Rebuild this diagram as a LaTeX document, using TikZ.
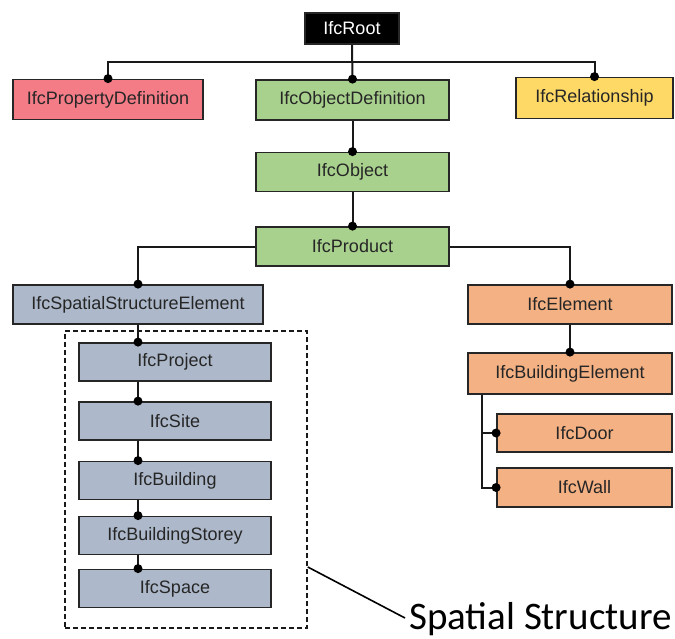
\documentclass[tikz,border=0pt]{standalone}
\usepackage{fontspec}
\setmainfont{Liberation Sans}
\newfontfamily\calibfont{Carlito}
\definecolor{ifcred}{RGB}{243,124,135}
\definecolor{ifcgreen}{RGB}{169,209,142}
\definecolor{ifcyellow}{RGB}{255,217,102}
\definecolor{ifcblue}{RGB}{173,185,202}
\definecolor{ifcorange}{RGB}{244,177,131}
\tikzset{
	ifcbox/.style={draw=black!85, line width=1.8pt, minimum height=39pt, inner sep=0pt,
		font=\fontsize{18}{18}\selectfont, text=black!85},
	link/.style={line width=2pt, draw=black!90},
}

\begin{document}
\begin{tikzpicture}[x=1pt,y=-1pt]
\useasboundingbox (0,0) rectangle (675,638);
%TOP
	\node[ifcbox, fill=black, text=white, minimum width=94pt, minimum height=31pt] (root) at (352,28.5) {IfcRoot};
	\node[ifcbox, fill=ifcred, minimum width=190pt, minimum height=40pt] (propdef) at (108,99.5) {IfcPropertyDefinition};
	\node[ifcbox, fill=ifcgreen, minimum width=193pt, minimum height=40pt] (objdef) at (352.5,100) {IfcObjectDefinition};
	\node[ifcbox, fill=ifcyellow, minimum width=157pt, minimum height=41pt] (rel) at (594.5,98) {IfcRelationship};
	\coordinate (bar) at (0,62);
%OBJECTS
	\node[ifcbox, fill=ifcgreen, minimum width=193pt] (object) at (352.5,172) {IfcObject};
	\node[ifcbox, fill=ifcgreen, minimum width=193pt] (product) at (352.5,246.5) {IfcProduct};
%SPATIAL
	\node[ifcbox, fill=ifcblue, minimum width=250pt] (sse) at (138,304.5) {IfcSpatialStructureElement};
	\node[draw=black!90, line width=1.6pt, dash pattern=on 5pt off 3pt, minimum width=242pt, minimum height=297pt] (ssframe) at (186,479.5) {};
	\node[ifcbox, fill=ifcblue, minimum width=192pt, minimum height=38pt] (project) at (175,362) {IfcProject};
	\node[ifcbox, fill=ifcblue, minimum width=192pt, minimum height=38pt] (site) at (175,421) {IfcSite};
	\node[ifcbox, fill=ifcblue, minimum width=192pt, minimum height=38pt] (building) at (175,480.5) {IfcBuilding};
	\node[ifcbox, fill=ifcblue, minimum width=192pt, minimum height=38pt] (storey) at (175,535.5) {IfcBuildingStorey};
	\node[ifcbox, fill=ifcblue, minimum width=192pt, minimum height=38pt] (space) at (175,588.5) {IfcSpace};
%ELEMENTS
	\node[ifcbox, fill=ifcorange, minimum width=204pt] (element) at (570,304.5) {IfcElement};
	\node[ifcbox, fill=ifcorange, minimum width=204pt, minimum height=41pt] (belem) at (570,373.5) {IfcBuildingElement};
	\node[ifcbox, fill=ifcorange, minimum width=175pt, minimum height=38pt] (door) at (584.5,433) {IfcDoor};
	\node[ifcbox, fill=ifcorange, minimum width=175pt] (wall) at (584.5,487.5) {IfcWall};
%label
	\node[font=\calibfont\fontsize{39}{39}\selectfont, anchor=west, inner sep=0pt] (sslabel) at (409,619) {Spatial Structure};
	\coordinate (belemleg) at ([xshift=15pt]belem.south west);

%links
	\draw[link] (root.south) -- (objdef.north);
	\draw[link] (propdef.north) -- (propdef.north |- bar) -- (rel.north |- bar) -- (rel.north);
	\draw[link] (objdef.south) -- (object.north);
	\draw[link] (object.south) -- (product.north);
	\draw[link] (product.west) -| (sse.north);
	\draw[link] (product.east) -| (element.north);
	\draw[link] (sse.south) -- (sse.south |- project.north);
	\draw[link] (sse.south |- project.south) -- (sse.south |- site.north);
	\draw[link] (sse.south |- site.south) -- (sse.south |- building.north);
	\draw[link] (sse.south |- building.south) -- (sse.south |- storey.north);
	\draw[link] (sse.south |- storey.south) -- (sse.south |- space.north);
	\draw[link] (element.south) -- (belem.north);
	\draw[link] (belemleg) |- (wall.west);
	\draw[link] (belemleg |- door.west) -- (door.west);
	\draw[line width=1.6pt] (ssframe.east |- 0,567) -- ([xshift=-4pt,yshift=1pt]sslabel.west);
%dots
	\foreach \p in {propdef.north, objdef.north, rel.north, object.north, product.north,
		sse.north, element.north, belem.north, door.west, wall.west}
		\fill (\p) circle (4.5pt);
	\foreach \q in {project, site, building, storey, space}
		\fill (sse.south |- \q.north) circle (4.5pt);
\end{tikzpicture}
\end{document}
